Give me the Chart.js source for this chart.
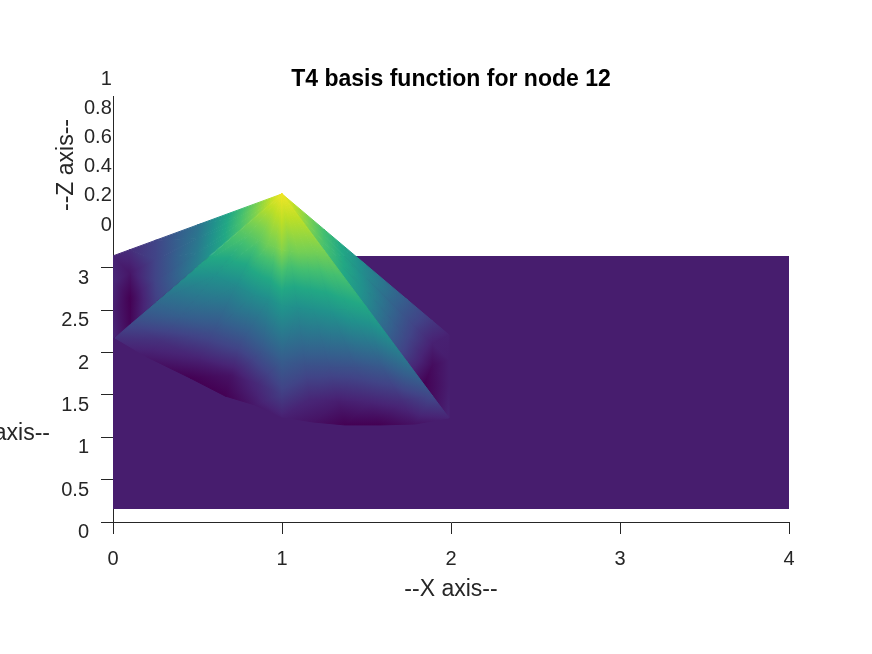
<!DOCTYPE html>
<html>
<head>
<meta charset="utf-8">
<title>T4 basis function for node 12</title>
<script src="https://cdn.jsdelivr.net/npm/chart.js@4/dist/chart.umd.js"></script>
<style>
  html, body { margin: 0; padding: 0; background: #fff; }
  canvas { display: block; }
</style>
</head>
<body>
<canvas id="surfaceChart" width="872" height="654"></canvas>
<script>
const xTicks = [0, 1, 2, 3, 4]
const yTicks = [0, 0.5, 1, 1.5, 2, 2.5, 3]
const zTicks = [0, 0.2, 0.4, 0.6, 0.8, 1]

// flat part of the surface
const flatX = [0, 4, 4, 0]
const flatY = [0.153, 0.153, 3.142, 3.142]
const flatValue = 0.08

// peak of the basis function, projected on the x/y plane
const peakX = 1
const peakY = 3.874
const peakValue = 0.98

// mesh rings, as a share of the way from the peak to the outer edge
const rings = [0.25, 0.5, 0.75, 0.9, 1]

// back left face: outer edge and colour value per ring
const backLeftX = [0, 0, 0, 0]
const backLeftY = [3.142, 2.835, 2.504, 2.173]
const backLeftValues = [
  [0.67, 0.37, 0.2, 0.13, 0.1],
  [0.69, 0.39, 0.2, 0.06, 0.11],
  [0.7, 0.41, 0.2, 0, 0.09],
  [0.7, 0.43, 0.18, 0.01, 0.11],
]

// back right face
const backRightX = [1.988, 1.988, 1.988, 1.935]
const backRightY = [2.209, 1.913, 1.618, 1.37]
const backRightValues = [
  [0.7, 0.46, 0.28, 0.16, 0.09],
  [0.7, 0.47, 0.24, 0.09, 0.08],
  [0.71, 0.48, 0.21, 0.03, 0.08],
  [0.72, 0.5, 0.21, 0, 0.06],
]

// front face
const frontX = [0.012, 0.201, 0.456, 0.663, 0.84, 1, 1.183, 1.373, 1.58, 1.787, 1.988]
const frontY = [2.173, 1.949, 1.701, 1.488, 1.382, 1.24, 1.181, 1.146, 1.146, 1.157, 1.228]
const frontValues = [
  [0.74, 0.55, 0.34, 0.22, 0.14],
  [0.74, 0.5, 0.3, 0.14, 0.07],
  [0.75, 0.47, 0.24, 0.09, 0],
  [0.78, 0.48, 0.22, 0.05, 0],
  [0.79, 0.49, 0.26, 0.12, 0.07],
  [0.82, 0.52, 0.29, 0.18, 0.09],
  [0.78, 0.49, 0.25, 0.11, 0.05],
  [0.79, 0.5, 0.24, 0.08, 0],
  [0.79, 0.52, 0.25, 0.1, 0],
  [0.79, 0.56, 0.28, 0.13, 0.05],
  [0.8, 0.6, 0.38, 0.22, 0.1],
]

// corner left between the back right and the front face
const cornerX = [1.988, 1.935, 1.988]
const cornerY = [1.618, 1.37, 1.228]
const cornerValues = [0.08, 0.06, 0.1]

const viridis = ["#440154", "#482475", "#414487", "#355f8d", "#2a788e", "#21918c", "#22a884", "#44bf70", "#7ad151", "#bddf26", "#fde725"]

const textColor = "#262626"
const tickFont = { family: "'Liberation Sans', Arial, sans-serif", size: 20 }
const labelFont = { family: "'Liberation Sans', Arial, sans-serif", size: 23 }

// a triangle has a linear colour value, so one linear gradient shades it exactly
function triangleFill(chart, tri) {
  const xScale = chart.scales.x
  const yScale = chart.scales.y
  if (!xScale || !yScale) return viridis[0]
  const px = tri.map((p) => xScale.getPixelForValue(p.x))
  const py = tri.map((p) => yScale.getPixelForValue(p.y))
  // scales have no size yet on the first pass
  if (!px.concat(py).every(Number.isFinite)) return viridis[0]
  const dx1 = px[1] - px[0]
  const dy1 = py[1] - py[0]
  const dv1 = tri[1].v - tri[0].v
  const dx2 = px[2] - px[0]
  const dy2 = py[2] - py[0]
  const dv2 = tri[2].v - tri[0].v
  const det = dx1 * dy2 - dx2 * dy1
  if (!det) return viridis[0]
  const a = (dv1 * dy2 - dv2 * dy1) / det
  const b = (dx1 * dv2 - dx2 * dv1) / det
  const n = a * a + b * b
  if (n < 1e-12) return flatColor()
  const gx = a / n
  const gy = b / n
  const gradient = chart.ctx.createLinearGradient(
    px[0] - tri[0].v * gx,
    py[0] - tri[0].v * gy,
    px[0] + (1 - tri[0].v) * gx,
    py[0] + (1 - tri[0].v) * gy
  )
  viridis.forEach((c, i) => gradient.addColorStop(i / (viridis.length - 1), c))
  return gradient
}

function flatColor() {
  const pos = flatValue * (viridis.length - 1)
  const i = Math.floor(pos)
  const mix = (s) => {
    const from = parseInt(viridis[i].substr(s, 2), 16)
    const to = parseInt(viridis[i + 1].substr(s, 2), 16)
    return Math.round(from + (to - from) * (pos - i))
  }
  return `rgb(${mix(1)}, ${mix(3)}, ${mix(5)})`
}

const flatPoints = flatX.map((x, i) => ({ x: x, y: flatY[i] }))
flatPoints.push(flatPoints[0])

const datasets = [
  {
    data: flatPoints,
    showLine: true,
    fill: "shape",
    backgroundColor: flatColor(),
    borderColor: flatColor(),
    borderWidth: 0,
    pointRadius: 0,
    tension: 0,
  },
]

function addTriangle(a, b, c) {
  const tri = [a, b, c]
  datasets.push({
    data: [a, b, c, a].map((p) => ({ x: p.x, y: p.y })),
    showLine: true,
    fill: "shape",
    backgroundColor: (ctx) => triangleFill(ctx.chart, tri),
    borderColor: (ctx) => triangleFill(ctx.chart, tri),
    borderWidth: 1,
    pointRadius: 0,
    tension: 0,
  })
}

// one face: triangles between neighbouring rays that start at the peak
function addFan(rayX, rayY, values) {
  const peak = { x: peakX, y: peakY, v: peakValue }
  const node = (r, k) => ({
    x: peakX + rings[k] * (rayX[r] - peakX),
    y: peakY + rings[k] * (rayY[r] - peakY),
    v: values[r][k],
  })
  for (let r = 0; r < rayX.length - 1; r++) {
    addTriangle(peak, node(r, 0), node(r + 1, 0))
    for (let k = 0; k < rings.length - 1; k++) {
      addTriangle(node(r, k), node(r + 1, k), node(r, k + 1))
      addTriangle(node(r + 1, k), node(r + 1, k + 1), node(r, k + 1))
    }
  }
}

addFan(backLeftX, backLeftY, backLeftValues)
addFan(backRightX, backRightY, backRightValues)
addTriangle(
  { x: cornerX[0], y: cornerY[0], v: cornerValues[0] },
  { x: cornerX[1], y: cornerY[1], v: cornerValues[1] },
  { x: cornerX[2], y: cornerY[2], v: cornerValues[2] }
)
addFan(frontX, frontY, frontValues)

// Chart.js paints low order last, so later faces end up on top
datasets.forEach((d, i) => {
  d.order = datasets.length - i
})

// Y and Z axis titles are not placed the way scale titles can be
const axisTitles = {
  id: "axisTitles",
  afterDraw(chart) {
    const ctx = chart.ctx
    ctx.save()
    ctx.fillStyle = textColor
    ctx.font = `${labelFont.size}px ${labelFont.family}`
    ctx.textBaseline = "middle"
    ctx.textAlign = "right"
    ctx.fillText("--Y axis--", 50, 434)
    ctx.translate(67, 165)
    ctx.rotate(-Math.PI / 2)
    ctx.textAlign = "center"
    ctx.fillText("--Z axis--", 0, 0)
    ctx.restore()
  },
}

const plainLabel = (value) => String(value)

new Chart(document.getElementById("surfaceChart").getContext("2d"), {
  type: "scatter",
  data: { datasets: datasets },
  plugins: [axisTitles],
  options: {
    responsive: false,
    animation: false,
    events: [],
    layout: { padding: { right: 83 } },
    plugins: {
      legend: { display: false },
      tooltip: { enabled: false },
      title: {
        display: true,
        text: "T4 basis function for node 12",
        color: "#000",
        fullSize: false,
        font: { family: labelFont.family, size: labelFont.size, weight: "bold" },
        padding: { top: 66.2, bottom: 2.2 },
      },
    },
    scales: {
      x: {
        type: "linear",
        position: "bottom",
        min: 0,
        max: 4,
        afterBuildTicks: (scale) => {
          scale.ticks = xTicks.map((v) => ({ value: v }))
        },
        afterFit: (scale) => {
          scale.height = 132
        },
        border: { color: textColor, width: 1 },
        grid: { drawOnChartArea: false, tickLength: 12, tickColor: textColor },
        ticks: { color: textColor, font: tickFont, padding: 13, maxRotation: 0, autoSkip: false, callback: plainLabel },
        title: {
          display: true,
          text: "--X axis--",
          color: textColor,
          font: labelFont,
          padding: { top: 0, bottom: 51 },
        },
      },
      y: {
        type: "linear",
        position: "left",
        weight: 1,
        min: 0,
        max: 5.03,
        afterBuildTicks: (scale) => {
          scale.ticks = yTicks.map((v) => ({ value: v }))
        },
        afterFit: (scale) => {
          scale.width = 113
        },
        border: { color: textColor, width: 1 },
        grid: { drawOnChartArea: false, tickLength: 12, tickColor: textColor },
        ticks: { color: textColor, font: tickFont, padding: 12, labelOffset: 10.5, autoSkip: false, callback: plainLabel },
      },
      z: {
        type: "linear",
        axis: "y",
        position: "left",
        weight: 0,
        min: -2.033,
        max: 0.884,
        afterBuildTicks: (scale) => {
          scale.ticks = zTicks.map((v) => ({ value: v }))
        },
        afterFit: (scale) => {
          scale.width = 0
        },
        border: { display: false },
        grid: { display: false },
        ticks: { color: textColor, font: tickFont, mirror: true, crossAlign: "far", padding: -29, autoSkip: false, callback: plainLabel },
      },
    },
  },
})
</script>
</body>
</html>
